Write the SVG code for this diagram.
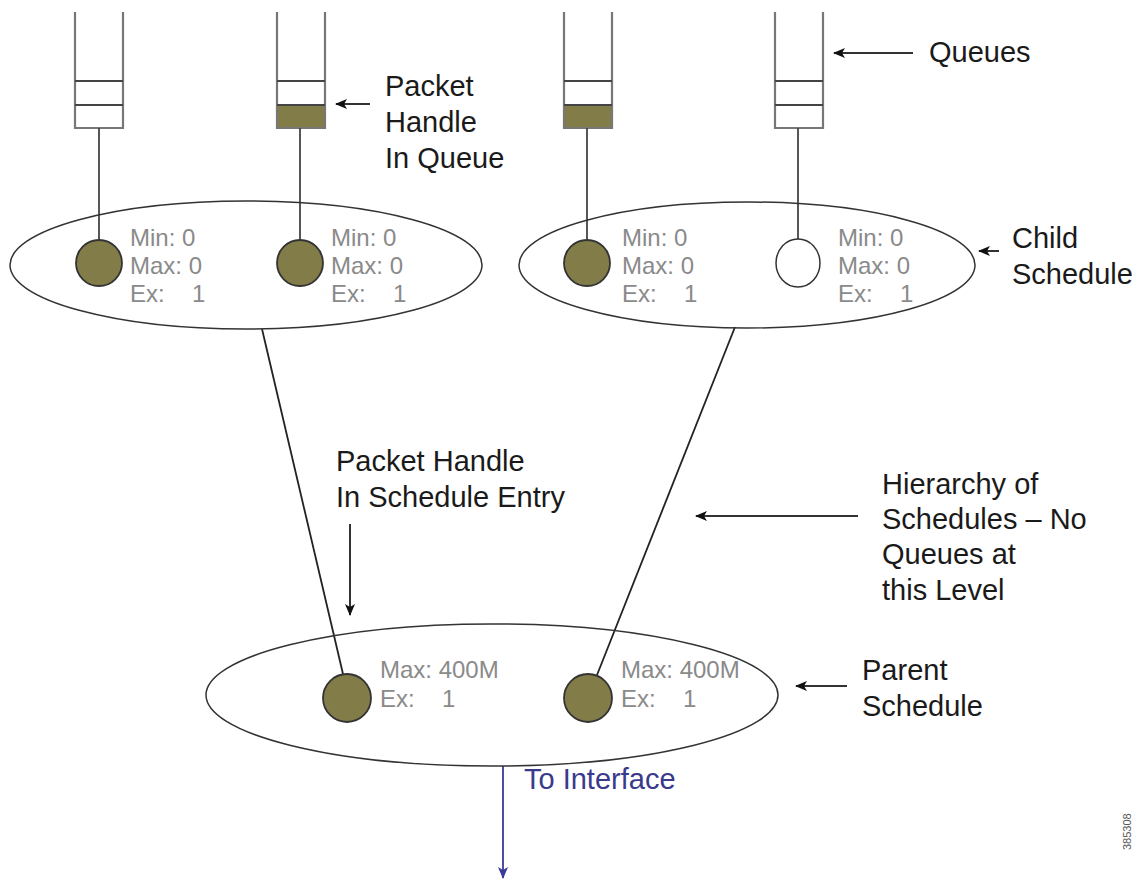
<svg xmlns="http://www.w3.org/2000/svg" width="1145" height="882" viewBox="0 0 1145 882">
<defs>
<marker id="ah" viewBox="0 0 12 10" refX="11" refY="5" markerWidth="12" markerHeight="10" markerUnits="userSpaceOnUse" orient="auto">
<path d="M0,0 L12,5 L0,10 L3,5 Z" fill="#111"/>
</marker>
<marker id="ahb" viewBox="0 0 12 10" refX="11" refY="5" markerWidth="12" markerHeight="10" markerUnits="userSpaceOnUse" orient="auto">
<path d="M0,0 L12,5 L0,10 L3,5 Z" fill="#3a3a9a"/>
</marker>
</defs>
<style>
.lbl{font-family:"Liberation Sans",Arial,sans-serif;font-size:29px;fill:#1a1a1a}
.val{font-family:"Liberation Sans",Arial,sans-serif;font-size:24px;fill:#8a8a8a}
.blue{font-family:"Liberation Sans",Arial,sans-serif;font-size:29px;fill:#3a3a8c}
.side{stroke:#777;stroke-width:2.2;fill:none}
.slot{stroke:#444;stroke-width:2.2}
.full{fill:#827d48}
.stem{stroke:#444;stroke-width:1.8}
.ell{fill:none;stroke:#333;stroke-width:1.5}
.pk{fill:#827d48;stroke:#333;stroke-width:1.8}
.empty{fill:#fff;stroke:#333;stroke-width:1.5}
.arr{stroke:#333;stroke-width:2;fill:none;marker-end:url(#ah)}
.conn{stroke:#222;stroke-width:1.8;fill:none}
</style>
<rect width="1145" height="882" fill="#fff"/>

<g id="queue1">
<rect x="75" y="105" width="48" height="23" fill="#fff"/>
<path class="side" d="M75,12 V128 H123 V12"/>
<line class="slot" x1="75" y1="81" x2="123" y2="81"/>
<line class="slot" x1="75" y1="105" x2="123" y2="105"/>
</g>
<g id="queue2">
<rect class="full" x="277" y="105" width="48" height="23"/>
<path class="side" d="M277,12 V128 H325 V12"/>
<line class="slot" x1="277" y1="81" x2="325" y2="81"/>
<line class="slot" x1="277" y1="105" x2="325" y2="105"/>
</g>
<g id="queue3">
<rect class="full" x="564" y="105" width="48" height="23"/>
<path class="side" d="M564,12 V128 H612 V12"/>
<line class="slot" x1="564" y1="81" x2="612" y2="81"/>
<line class="slot" x1="564" y1="105" x2="612" y2="105"/>
</g>
<g id="queue4">
<path class="side" d="M775,12 V128 H823 V12"/>
<line class="slot" x1="775" y1="81" x2="823" y2="81"/>
<line class="slot" x1="775" y1="105" x2="823" y2="105"/>
</g>

<g id="connectors">
<line class="stem" x1="99" y1="128" x2="99" y2="240"/>
<line class="stem" x1="300" y1="128" x2="300" y2="240"/>
<line class="stem" x1="587" y1="128" x2="587" y2="240"/>
<line class="stem" x1="798" y1="128" x2="798" y2="240"/>
<line class="conn" x1="262" y1="329" x2="343" y2="674"/>
<line class="conn" x1="735" y1="327" x2="597" y2="675"/>
<line x1="503" y1="766" x2="503" y2="878" stroke="#3a3a9a" stroke-width="1.8" marker-end="url(#ahb)"/>
<line class="arr" x1="913" y1="53" x2="834" y2="53"/>
<line class="arr" x1="370" y1="104" x2="336" y2="104"/>
<line class="arr" x1="999" y1="251" x2="979" y2="251"/>
<line class="arr" x1="350" y1="524" x2="350" y2="615"/>
<line class="arr" x1="858" y1="516" x2="696" y2="516"/>
<line class="arr" x1="847" y1="686" x2="796" y2="686"/>
</g>

<g id="child-schedule-1">
<ellipse class="ell" cx="246" cy="265" rx="236" ry="64"/>
<circle class="pk" cx="99" cy="263" r="23"/>
<circle class="pk" cx="300" cy="263" r="23"/>
<text class="val" x="130" y="246">Min: 0</text>
<text class="val" x="130" y="274">Max: 0</text>
<text class="val" x="130" y="302">Ex: <tspan x="192">1</tspan></text>
<text class="val" x="331" y="246">Min: 0</text>
<text class="val" x="331" y="274">Max: 0</text>
<text class="val" x="331" y="302">Ex: <tspan x="393">1</tspan></text>
</g>

<g id="child-schedule-2">
<ellipse class="ell" cx="747" cy="265" rx="228" ry="63"/>
<circle class="pk" cx="587" cy="263" r="23"/>
<ellipse class="empty" cx="798" cy="263" rx="22" ry="24"/>
<text class="val" x="622" y="246">Min: 0</text>
<text class="val" x="622" y="274">Max: 0</text>
<text class="val" x="622" y="302">Ex: <tspan x="684">1</tspan></text>
<text class="val" x="838" y="246">Min: 0</text>
<text class="val" x="838" y="274">Max: 0</text>
<text class="val" x="838" y="302">Ex: <tspan x="900">1</tspan></text>
</g>

<g id="parent-schedule">
<ellipse class="ell" cx="492" cy="695" rx="286" ry="71"/>
<circle class="pk" cx="347" cy="698" r="24"/>
<circle class="pk" cx="588" cy="698" r="24"/>
<text class="val" x="380" y="678">Max: 400M</text>
<text class="val" x="380" y="707">Ex: <tspan x="442">1</tspan></text>
<text class="val" x="621" y="678">Max: 400M</text>
<text class="val" x="621" y="707">Ex: <tspan x="683">1</tspan></text>
</g>

<g id="labels">
<text class="lbl" x="929" y="62">Queues</text>
<text class="lbl" x="385" y="96">Packet</text>
<text class="lbl" x="385" y="132">Handle</text>
<text class="lbl" x="385" y="168">In Queue</text>
<text class="lbl" x="1012" y="248">Child</text>
<text class="lbl" x="1012" y="284">Schedule</text>
<text class="lbl" x="336" y="471">Packet Handle</text>
<text class="lbl" x="336" y="507">In Schedule Entry</text>
<text class="lbl" x="882" y="494">Hierarchy of</text>
<text class="lbl" x="882" y="529">Schedules – No</text>
<text class="lbl" x="882" y="564">Queues at</text>
<text class="lbl" x="882" y="600">this Level</text>
<text class="lbl" x="862" y="680">Parent</text>
<text class="lbl" x="862" y="716">Schedule</text>
<text class="blue" x="524" y="789">To Interface</text>
<text x="1131" y="850" transform="rotate(-90 1131 850)" font-family="Liberation Sans,Arial,sans-serif" font-size="11" fill="#555">385308</text>
</g>
</svg>
